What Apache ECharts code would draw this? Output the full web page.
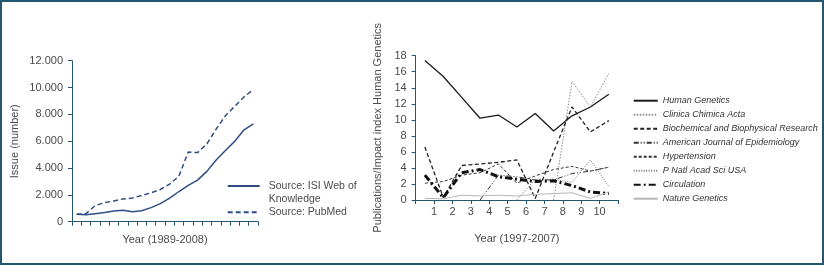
<!DOCTYPE html>
<html>
<head>
<meta charset="utf-8">
<script src="https://cdn.jsdelivr.net/npm/echarts@6/dist/echarts.min.js"></script>
<style>
  html, body { margin: 0; padding: 0; background: #fff; }
  #chart { width: 824px; height: 265px; box-sizing: border-box; border: 2px solid #24566f; }
</style>
</head>
<body>
<div id="chart"></div>
<script>
var chart = echarts.init(document.getElementById('chart'));

// ---------- left: issues per year ----------
const issueYears = ['1989', '1990', '1991', '1992', '1993', '1994', '1995', '1996', '1997', '1998',
  '1999', '2000', '2001', '2002', '2003', '2004', '2005', '2006', '2007', '2008'];
const isiValues = [550, 520, 600, 680, 800, 850, 750, 820, 1050, 1350,
  1750, 2250, 2700, 3100, 3750, 4600, 5300, 6000, 6850, 7300];
const pubmedValues = [550, 600, 1200, 1420, 1550, 1700, 1760, 1960, 2150, 2400,
  2800, 3400, 5200, 5150, 5800, 6900, 7900, 8600, 9300, 9850];

// ---------- right: publications / impact index ----------
const impactYears = ['1997', '1998', '1999', '2000', '2001', '2002', '2003', '2004', '2005', '2006', '2007'];
const humanGenetics = [17.4, 15.4, 12.8, 10.2, 10.6, 9.1, 10.8, 8.6, 10.5, 11.6, 13.2];
const clinicaChimica = [null, null, null, null, null, null, null, 0, 14.8, 11.6, 15.8];
const biochemical = [6.6, 0.3, 4.3, 4.5, 4.7, 5.0, 0.2, 6.0, 11.6, 8.5, 9.9];
const amJEpidemiology = [null, null, null, 0, 3.1, 2.9, 2.5, 2.5, 3.3, 3.6, 4.1];
const hypertension = [2.1, 2.3, 3.1, 3.4, 4.5, 2.1, 3.0, 3.8, 4.2, 3.6, 4.1];
const pnas = [null, null, null, null, null, 0, 2.6, 2.6, 2.2, 5.0, 1.7];
const circulation = [3.1, 0.3, 3.4, 3.8, 2.9, 2.6, 2.3, 2.4, 1.8, 1.0, 0.8];
const natureGenetics = [0.2, 0.15, 0.6, 0.5, 0.6, 0.5, 0.7, 0.8, 0.9, 0.2, 1.0];

const font = 'Liberation Sans';
const axisColor = '#24566f';
const textColor = '#4a4a4a';
const blue = '#2e4d86';

function lineSeries(name, data, color, width, type) {
  return {
    name: name,
    type: 'line',
    xAxisIndex: 1,
    yAxisIndex: 1,
    data: data,
    symbol: 'none',
    connectNulls: false,
    lineStyle: { color: color, width: width, type: type },
    itemStyle: { color: color, opacity: 0 }
  };
}

const option = {
  animation: false,
  textStyle: { fontFamily: font },
  grid: [
    { left: 70, top: 58.7, width: 186, height: 161, outerBoundsMode: 'none' },
    { left: 413.7, top: 53.7, width: 202.3, height: 144.3, outerBoundsMode: 'none' }
  ],
  legend: [
    {
      left: 224.7, top: 164.5, padding: 0,
      itemWidth: 32, itemHeight: 10,
      itemStyle: { opacity: 0 },
      textStyle: { fontFamily: font, fontSize: 10.5, color: textColor, lineHeight: 13, padding: [0, 0, 0, 4] },
      formatter: function (name) { return ' \n' + name; },
      data: ['Source: ISI Web of\nKnowledge']
    },
    {
      left: 224.7, top: 203.8, padding: 0,
      itemWidth: 32, itemHeight: 10,
      itemStyle: { opacity: 0 },
      textStyle: { fontFamily: font, fontSize: 10.5, color: textColor, lineHeight: 13, padding: [0, 0, 0, 4] },
      data: ['Source: PubMed']
    },
    {
      left: 630.7, top: 92.7, padding: 0, orient: 'vertical',
      itemWidth: 24, itemHeight: 10, itemGap: 2,
      itemStyle: { opacity: 0 },
      textStyle: { fontFamily: font, fontSize: 9, fontStyle: 'italic', color: '#333', lineHeight: 12 },
      data: ['Human Genetics', 'Clinica Chimica Acta', 'Biochemical and Biophysical Research',
        'American Journal of Epidemiology', 'Hypertension', 'P Natl Acad Sci USA',
        'Circulation', 'Nature Genetics']
    }
  ],
  xAxis: [
    {
      gridIndex: 0,
      type: 'category',
      position: 'bottom',
      data: issueYears,
      boundaryGap: true,
      name: 'Year (1989-2008)',
      nameLocation: 'middle',
      nameGap: 13,
      nameTextStyle: { fontSize: 11, color: textColor },
      axisLine: { lineStyle: { color: axisColor, width: 1 } },
      axisTick: { show: true, interval: 0, length: 4, lineStyle: { color: axisColor } },
      axisLabel: { show: false },
      splitLine: { show: false }
    },
    {
      gridIndex: 1,
      type: 'category',
      position: 'bottom',
      data: impactYears,
      boundaryGap: true,
      show: false
    },
    {
      gridIndex: 1,
      type: 'value',
      position: 'bottom',
      min: 0,
      max: 11,
      interval: 1,
      name: 'Year (1997-2007)',
      nameLocation: 'middle',
      nameGap: 33,
      nameTextStyle: { fontSize: 11, color: textColor },
      axisLine: { show: true, onZero: false, lineStyle: { color: axisColor, width: 1 } },
      axisTick: { show: true, length: 4, lineStyle: { color: axisColor } },
      axisLabel: {
        fontSize: 11, color: textColor, margin: 6,
        formatter: function (v) { return (v >= 1 && v <= 10) ? String(v) : ''; }
      },
      splitLine: { show: false }
    }
  ],
  yAxis: [
    {
      gridIndex: 0,
      type: 'value',
      min: 0,
      max: 12000,
      interval: 2000,
      name: 'Issue (number)',
      nameLocation: 'middle',
      nameGap: 52,
      nameTextStyle: { fontSize: 11, color: textColor },
      axisLine: { show: true, lineStyle: { color: axisColor, width: 1 } },
      axisTick: { show: true, length: 4, lineStyle: { color: axisColor } },
      axisLabel: {
        fontSize: 11, color: textColor, margin: 9,
        formatter: function (v) { return v === 0 ? '0' : (v / 1000).toFixed(3); }
      },
      splitLine: { show: false }
    },
    {
      gridIndex: 1,
      type: 'value',
      min: 0,
      max: 18,
      interval: 2,
      name: 'Publications/Impact index Human Genetics',
      nameLocation: 'middle',
      nameGap: 32,
      nameTextStyle: { fontSize: 11, color: textColor },
      axisLine: { show: true, lineStyle: { color: axisColor, width: 1 } },
      axisTick: { show: true, length: 4, lineStyle: { color: axisColor } },
      axisLabel: { fontSize: 11, color: textColor, margin: 9 },
      splitLine: { show: false }
    }
  ],
  series: [
    {
      name: 'Source: ISI Web of\nKnowledge',
      type: 'line',
      xAxisIndex: 0,
      yAxisIndex: 0,
      data: isiValues,
      symbol: 'none',
      lineStyle: { color: blue, width: 1.5 },
      itemStyle: { color: blue, opacity: 0 }
    },
    {
      name: 'Source: PubMed',
      type: 'line',
      xAxisIndex: 0,
      yAxisIndex: 0,
      data: pubmedValues,
      symbol: 'none',
      lineStyle: { color: blue, width: 1.5, type: [5, 3] },
      itemStyle: { color: blue, opacity: 0 }
    },
    lineSeries('Human Genetics', humanGenetics, '#1a1a1a', 1.3, 'solid'),
    lineSeries('Clinica Chimica Acta', clinicaChimica, '#8a8a8a', 1, [1.5, 1.5]),
    lineSeries('Biochemical and Biophysical Research', biochemical, '#222', 1.3, [4, 2.5]),
    lineSeries('American Journal of Epidemiology', amJEpidemiology, '#333', 1, [5, 2, 1, 2, 1, 2]),
    lineSeries('Hypertension', hypertension, '#333', 1, [3, 2]),
    lineSeries('P Natl Acad Sci USA', pnas, '#777', 1, [1, 1.5]),
    lineSeries('Circulation', circulation, '#111', 3, [7, 3, 2, 3]),
    lineSeries('Nature Genetics', natureGenetics, '#b5b5b5', 1, 'solid')
  ]
};

chart.setOption(option);
</script>
</body>
</html>
